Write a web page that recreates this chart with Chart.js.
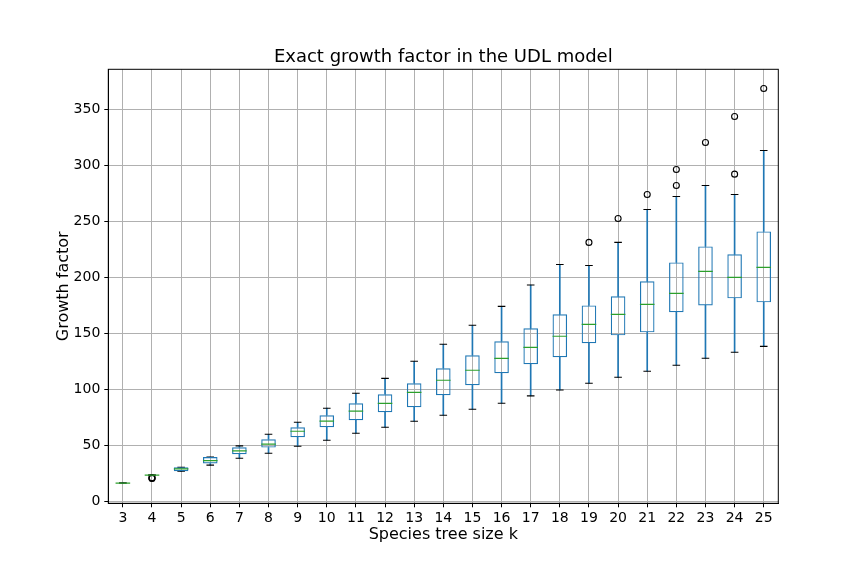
<!DOCTYPE html>
<html>
<head>
<meta charset="utf-8">
<script src="https://cdn.jsdelivr.net/npm/chart.js@4.4.1/dist/chart.umd.min.js"></script>
<style>
  html, body { margin: 0; padding: 0; background: #fff; }
  canvas { display: block; }
</style>
</head>
<body>
<canvas id="chart" width="864" height="576"></canvas>
<script>
// Tamaño del árbol de especies k
const categories = ['3','4','5','6','7','8','9','10','11','12','13','14','15','16','17','18','19','20','21','22','23','24','25'];

// Estadísticas de cada caja
const whiskerLow  = [16.3, 23.4, 26.8, 32.3, 38.5, 43.0, 49.2, 54.6, 60.8, 66.2, 71.6, 76.9, 82.3, 87.6, 94.2, 99.5, 105.5, 110.8, 116.2, 121.6, 127.8, 133.2, 138.5];
const q1          = [16.3, 23.4, 26.8, 33.8, 42.1, 48.0, 57.3, 66.2, 72.5, 79.6, 84.1, 94.8, 103.7, 114.4, 122.5, 128.7, 141.2, 148.3, 151.0, 168.9, 175.1, 181.4, 177.8];
const median      = [16.3, 23.4, 29.0, 36.4, 45.0, 51.0, 62.6, 71.6, 80.5, 87.6, 97.4, 108.2, 117.1, 127.8, 137.6, 147.5, 158.1, 167.1, 176.0, 185.8, 205.5, 200.1, 209.1];
const q3          = [16.3, 23.4, 30.4, 39.5, 48.3, 55.5, 66.2, 76.9, 87.6, 95.7, 105.5, 118.9, 130.5, 143.0, 154.6, 167.1, 175.1, 183.2, 196.6, 213.5, 227.8, 220.7, 241.2];
const whiskerHigh = [16.3, 23.4, 30.4, 39.5, 49.5, 59.9, 70.6, 83.2, 96.6, 109.9, 125.1, 140.3, 157.3, 174.2, 193.3, 211.7, 210.8, 231.4, 260.8, 272.4, 282.3, 274.2, 313.5];

// Valores atípicos: [k, valor]
const outliers = [
  ['4', 20.3], ['4', 20.7], ['4', 21.0],
  ['19', 231.4],
  ['20', 252.8],
  ['21', 274.2],
  ['22', 282.3], ['22', 296.6],
  ['23', 320.7],
  ['24', 292.4], ['24', 343.9],
  ['25', 368.9]
];

const yTicks = [0, 50, 100, 150, 200, 250, 300, 350];

const BLUE = '#1f77b4';
const GREEN = '#2ca02c';

Chart.defaults.font.family = "'DejaVu Sans', sans-serif";
Chart.defaults.color = '#000';

// Marco completo del área de dibujo y título centrado sobre ella
const frame = {
  id: 'frame',
  afterLayout(chart) {
    const t = chart.titleBlock;
    if (t) {
      t.left = chart.chartArea.left;
      t.right = chart.chartArea.right;
    }
  },
  afterDatasetsDraw(chart) {
    const { ctx, chartArea: a } = chart;
    ctx.save();
    ctx.strokeStyle = '#000';
    ctx.lineWidth = 1;
    ctx.strokeRect(a.left, a.top, a.right - a.left, a.bottom - a.top);
    ctx.restore();
  }
};

new Chart(document.getElementById('chart'), {
  type: 'bar',
  data: {
    labels: categories,
    datasets: [
      {
        type: 'line',
        label: 'median',
        data: median,
        showLine: false,
        pointStyle: 'line',
        pointRadius: 7.3,
        pointHoverRadius: 7.3,
        pointBorderColor: GREEN,
        pointBorderWidth: 1.2,
        order: 0
      },
      {
        type: 'line',
        label: 'outliers',
        data: outliers.map(o => ({ x: o[0], y: o[1] })),
        showLine: false,
        pointStyle: 'circle',
        pointRadius: 3,
        pointBorderColor: '#000',
        pointBackgroundColor: 'rgba(0,0,0,0)',
        pointBorderWidth: 1.1,
        order: 0
      },
      {
        label: 'box',
        data: categories.map((c, i) => [q1[i], q3[i]]),
        backgroundColor: 'rgba(0,0,0,0)',
        borderColor: BLUE,
        borderWidth: 1.2,
        borderSkipped: false,
        barPercentage: 0.5,
        categoryPercentage: 1,
        grouped: false,
        order: 1
      },
      {
        type: 'line',
        label: 'capLow',
        data: whiskerLow,
        showLine: false,
        pointStyle: 'line',
        pointRadius: 3.8,
        pointBorderColor: '#000',
        pointBorderWidth: 1.1,
        order: 2
      },
      {
        type: 'line',
        label: 'capHigh',
        data: whiskerHigh,
        showLine: false,
        pointStyle: 'line',
        pointRadius: 3.8,
        pointBorderColor: '#000',
        pointBorderWidth: 1.1,
        order: 2
      },
      {
        label: 'whiskerLow',
        data: categories.map((c, i) => [whiskerLow[i], q1[i]]),
        backgroundColor: BLUE,
        borderWidth: 0,
        barThickness: 1,
        grouped: false,
        order: 3
      },
      {
        label: 'whiskerHigh',
        data: categories.map((c, i) => [q3[i], whiskerHigh[i]]),
        backgroundColor: BLUE,
        borderWidth: 0,
        barThickness: 1,
        grouped: false,
        order: 3
      }
    ]
  },
  options: {
    responsive: false,
    animation: false,
    devicePixelRatio: 1,
    layout: { padding: { left: 0, right: 85.7, top: 0, bottom: 0 } },
    plugins: {
      legend: { display: false },
      tooltip: { enabled: false },
      title: {
        display: true,
        text: 'Exact growth factor in the UDL model',
        font: { size: 18, weight: 'normal' },
        color: '#000',
        padding: { top: 47, bottom: 0.7 }
      }
    },
    scales: {
      x: {
        type: 'category',
        offset: true,
        grid: { offset: false, color: '#b0b0b0', lineWidth: 1, tickColor: '#000', tickLength: 4 },
        border: { color: '#000', width: 1 },
        ticks: { font: { size: 14 }, padding: 3, maxRotation: 0, autoSkip: false },
        title: { display: true, text: 'Species tree size k', font: { size: 16 }, padding: { top: 0, bottom: 31.2 } },
        afterFit(scale) { scale.height = 72.7; }
      },
      y: {
        min: -1.8,
        max: 386.1,
        grid: { color: '#b0b0b0', lineWidth: 1, tickColor: '#000', tickLength: 4 },
        border: { color: '#000', width: 1 },
        ticks: { font: { size: 14 }, padding: 4, includeBounds: false, stepSize: 50 },
        afterBuildTicks(scale) { scale.ticks = yTicks.map(v => ({ value: v })); },
        title: { display: true, text: 'Growth factor', font: { size: 16 }, padding: { top: 54, bottom: 0 } },
        afterFit(scale) { scale.width = 108.3; }
      }
    }
  },
  plugins: [frame]
});
</script>
</body>
</html>
